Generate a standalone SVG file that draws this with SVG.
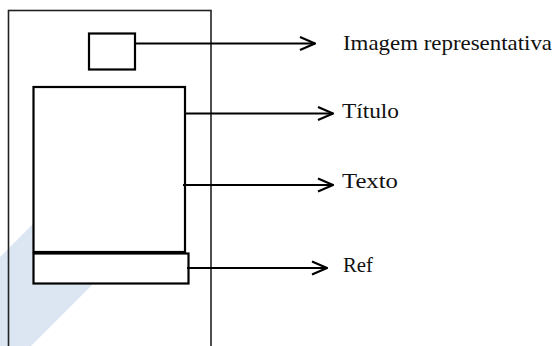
<svg xmlns="http://www.w3.org/2000/svg" width="556" height="346" viewBox="0 0 556 346">
<style>
.box{fill:#fff;stroke:#000;stroke-width:2.2}
.outer{fill:none;stroke:#222;stroke-width:1.6}
.conn{fill:none;stroke:#000;stroke-width:1.8}
.lbl{font-family:"Liberation Serif","Times New Roman",serif;font-size:21px;fill:#111}
</style>
<defs>
<marker id="arr" viewBox="0 0 18 16" refX="17" refY="8" markerWidth="18" markerHeight="16" markerUnits="userSpaceOnUse" orient="auto">
<path d="M2,1.5 L17,8 L2,14.5" fill="none" stroke="#000" stroke-width="2.2"/>
</marker>
</defs>
<rect width="556" height="346" fill="#fff"/>
<polygon points="0,257 57,200 177,200 31,346 0,346" fill="#dce6f2"/>
<g id="page">
<rect class="outer" x="8.5" y="10.5" width="202.5" height="345"/>
</g>
<g id="imagem">
<rect class="box" x="89" y="33.5" width="46" height="36"/>
</g>
<g id="corpo">
<rect class="box" x="33.5" y="87" width="151.5" height="165"/>
</g>
<g id="ref">
<rect class="box" x="33.5" y="253.5" width="155" height="30"/>
</g>
<g id="connectors">
<line class="conn" x1="135" y1="43.5" x2="315" y2="43.5" marker-end="url(#arr)"/>
<line class="conn" x1="185" y1="113.5" x2="333" y2="113.5" marker-end="url(#arr)"/>
<line class="conn" x1="183" y1="185" x2="333" y2="185" marker-end="url(#arr)"/>
<line class="conn" x1="187" y1="268" x2="327" y2="268" marker-end="url(#arr)"/>
</g>
<g id="labels">
<text class="lbl" x="343" y="50" textLength="209" lengthAdjust="spacingAndGlyphs">Imagem representativa</text>
<text class="lbl" x="342" y="118" textLength="57" lengthAdjust="spacingAndGlyphs">Título</text>
<text class="lbl" x="342" y="188" textLength="56" lengthAdjust="spacingAndGlyphs">Texto</text>
<text class="lbl" x="343" y="272" textLength="30" lengthAdjust="spacingAndGlyphs">Ref</text>
</g>
</svg>
